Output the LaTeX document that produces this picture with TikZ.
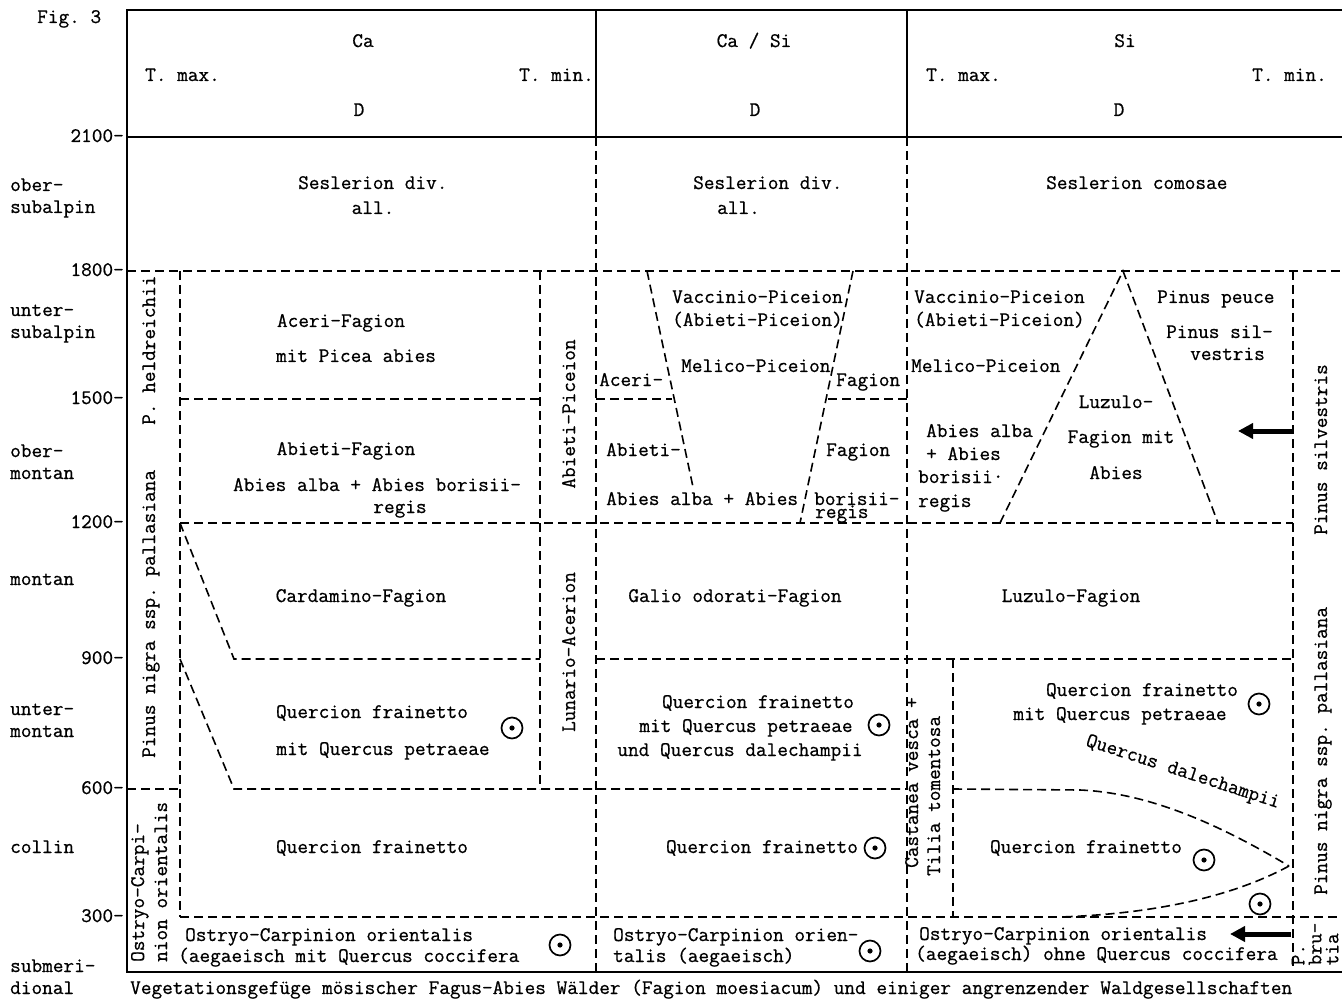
\documentclass[tikz,border=0pt]{standalone}
\usepackage{fontspec}
\setmonofont{Latin Modern Mono}[FakeBold=0.7]
\usetikzlibrary{arrows.meta}
\begin{document}
\begin{tikzpicture}[x=1pt,y=-1pt,
 frame/.style={line width=2pt},
 dl/.style={dash pattern=on 9pt off 5pt, line width=1.6pt},
 tx/.style={font=\fontsize{20.7}{24}\selectfont\ttfamily, inner sep=0pt, text height=10pt, text depth=0pt},
 vt/.style={tx, rotate=90, anchor=west},
 odot/.style={circle, draw, line width=1.7pt, minimum size=21pt, inner sep=0pt,
   path picture={\fill (path picture bounding box.center) circle (2.6pt);}},
 bigarrow/.style={line width=5pt, -{Triangle[length=15pt,width=15pt]}}]
\useasboundingbox (0,0) rectangle (1342,1000);

% ---------- frame (solid) ----------
\draw[frame] (1342,10) -- (127,10) -- (127,972) -- (1342,972);
\draw[frame] (127,137) -- (1342,137);
\draw[frame] (596,10) -- (596,137);
\draw[frame] (907,10) -- (907,137);

% ---------- dashed grid ----------
\draw[dl] (127,271) -- (1342,271);
\draw[dl] (596,137) -- (596,972);
\draw[dl] (907,137) -- (907,972);
\draw[dl] (180,271) -- (180,917);
\draw[dl] (540,271) -- (540,789);
\draw[dl] (180,399) -- (540,399);
\draw[dl] (180,523) -- (1293,523);
\draw[dl] (180,523) -- (234,659) -- (540,659);
\draw[dl] (180,659) -- (234,789) -- (907,789);
\draw[dl] (127,789) -- (180,789);
\draw[dl] (180,917) -- (1342,917);
% Ca/Si column
\draw[dl] (596,399) -- (672,399);
\draw[dl] (828,399) -- (907,399);
\draw[dl] (647,271) -- (693,487);
\draw[dl] (853,271) -- (800,523);
\draw[dl] (596,659) -- (1293,659);
\draw[dl] (953,659) -- (953,917);
% Si column
\draw[dl] (1000,523) -- (1123,271) -- (1218,523);
\draw[dl] (1293,271) -- (1293,972);
\draw[dl] (953,789) -- (1080,790) .. controls (1150,793) and (1220,825) .. (1289,866);
\draw[dl] (1289,866) .. controls (1230,898) and (1150,914) .. (1060,917);

% ---------- header ----------
\node[tx, anchor=west] (fig) at (37,18) {Fig. 3};
\node[tx] (hca) at (363,42) {Ca};
\node[tx, anchor=west] (hcamax) at (145,76) {T. max.};
\node[tx, anchor=west] (hcamin) at (519,76) {T. min.};
\node[tx] (hcad) at (359,111) {D};
\node[tx] (hcasi) at (754,42) {Ca / Si};
\node[tx] (hcasid) at (755,111) {D};
\node[tx] (hsi) at (1125,42) {Si};
\node[tx, anchor=west] (hsimax) at (926,76) {T. max.};
\node[tx, anchor=west] (hsimin) at (1252,76) {T. min.};
\node[tx] (hsid) at (1119,111) {D};

% ---------- altitude ticks ----------
\node[tx, anchor=east] (t2100) at (124,137) {2100-};
\node[tx, anchor=east] (t1800) at (124,271) {1800-};
\node[tx, anchor=east] (t1500) at (124,399) {1500-};
\node[tx, anchor=east] (t1200) at (124,523) {1200-};
\node[tx, anchor=east] (t900) at (124,659) {900-};
\node[tx, anchor=east] (t600) at (124,789) {600-};
\node[tx, anchor=east] (t300) at (124,917) {300-};

% ---------- belt labels ----------
\node[tx, anchor=west] (b1a) at (10,186) {ober-};
\node[tx, anchor=west] (b1b) at (10,208) {subalpin};
\node[tx, anchor=west] (b2a) at (10,311) {unter-};
\node[tx, anchor=west] (b2b) at (10,333) {subalpin};
\node[tx, anchor=west] (b3a) at (10,452) {ober-};
\node[tx, anchor=west] (b3b) at (10,474) {montan};
\node[tx, anchor=west] (b4) at (10,580) {montan};
\node[tx, anchor=west] (b5a) at (10,710) {unter-};
\node[tx, anchor=west] (b5b) at (10,732) {montan};
\node[tx, anchor=west] (b6) at (10,848) {collin};
\node[tx, anchor=west] (b7a) at (10,967) {submeri-};
\node[tx, anchor=west] (b7b) at (10,989) {dional};

% ---------- Ca column ----------
\node[tx, anchor=west] (ca1) at (298,184) {Seslerion div.};
\node[tx] (ca2) at (373,209) {all.};
\node[tx] (ca3) at (341,322) {Aceri-Fagion};
\node[tx] (ca4) at (356,357) {mit Picea abies};
\node[tx] (ca5) at (346,450) {Abieti-Fagion};
\node[tx] (ca6) at (377,486) {Abies alba + Abies borisii-};
\node[tx] (ca7) at (400,508) {regis};
\node[tx] (ca8) at (361,597) {Cardamino-Fagion};
\node[tx] (ca9) at (372,713) {Quercion frainetto};
\node[tx] (ca10) at (383,750) {mit Quercus petraeae};
\node[odot] (oc1) at (512,728) {};
\node[tx] (ca11) at (372,848) {Quercion frainetto};
\node[tx, anchor=west] (ca12) at (185,936) {Ostryo-Carpinion orientalis};
\node[tx, anchor=west] (ca13) at (178,957) {(aegaeisch mit Quercus coccifera};
\node[odot] (oc2) at (560,945) {};
\node[vt] (pn1) at (150,758) {Pinus nigra ssp. pallasiana};
\node[vt] (pn2) at (150,425) {P. heldreichii};
\node[vt] (oc3) at (139,962) {Ostryo-Carpi-};
\node[vt] (oc4) at (162,962) {nion orientalis};
\node[tx, rotate=90] (ap) at (570,414) {Abieti-Piceion};
\node[tx, rotate=90] (la) at (570,652) {Lunario-Acerion};

% ---------- Ca / Si column ----------
\node[tx, anchor=west] (m1) at (693,184) {Seslerion div.};
\node[tx, anchor=west] (m2) at (717,209) {all.};
\node[tx, anchor=west] (m3) at (672,298) {Vaccinio-Piceion};
\node[tx, anchor=west] (m4) at (672,321) {(Abieti-Piceion)};
\node[tx, anchor=west] (m5) at (681,367) {Melico-Piceion};
\node[tx, anchor=west] (m6) at (599,381) {Aceri-};
\node[tx, anchor=west] (m7) at (836,381) {Fagion};
\node[tx, anchor=west] (m8) at (606,451) {Abieti-};
\node[tx, anchor=west] (m9) at (826,451) {Fagion};
\node[tx, anchor=west] (m10) at (606,500) {Abies alba + Abies};
\node[tx, anchor=west] (m11) at (814,500) {borisii-};
\node[tx, anchor=west] (m12) at (815,513) {regis};
\node[tx] (m13) at (735,597) {Galio odorati-Fagion};
\node[tx] (m14) at (758,703) {Quercion frainetto};
\node[tx] (m15) at (746,727) {mit Quercus petraeae};
\node[tx] (m16) at (740,751) {und Quercus dalechampii};
\node[odot] (om1) at (879,725) {};
\node[tx] (m17) at (762,848) {Quercion frainetto};
\node[odot] (om2) at (875,848) {};
\node[tx, anchor=west] (m18) at (613,936) {Ostryo-Carpinion orien-};
\node[tx, anchor=west] (m19) at (613,957) {talis (aegaeisch)};
\node[odot] (om3) at (870,951) {};
\node[vt] (cv1) at (913,868) {Castanea vesca +};
\node[vt] (cv2) at (935,876) {Tilia tomentosa};

% ---------- Si column ----------
\node[tx, anchor=west] (s1) at (1046,184) {Seslerion comosae};
\node[tx, anchor=west] (s2) at (914,298) {Vaccinio-Piceion};
\node[tx, anchor=west] (s3) at (914,321) {(Abieti-Piceion)};
\node[tx, anchor=west] (s4) at (911,367) {Melico-Piceion};
\node[tx, anchor=west] (s5) at (1157,298) {Pinus peuce};
\node[tx, anchor=west] (s6) at (1166,333) {Pinus sil-};
\node[tx, anchor=west] (s7) at (1190,355) {vestris};
\node[tx] (s8) at (1116,403) {Luzulo-};
\node[tx] (s9) at (1121,438) {Fagion mit};
\node[tx] (s10) at (1116,474) {Abies};
\node[tx, anchor=west] (s11) at (926,432) {Abies alba};
\node[tx, anchor=west] (s12) at (926,455) {+ Abies};
\node[tx, anchor=west] (s13) at (918,478) {borisii·};
\node[tx, anchor=west] (s14) at (918,502) {regis};
\node[tx] (s15) at (1071,597) {Luzulo-Fagion};
\node[tx] (s16) at (1142,691) {Quercion frainetto};
\node[tx] (s17) at (1120,715) {mit Quercus petraeae};
\node[odot] (os1) at (1259,704) {};
\node[tx, rotate=-18] (s18) at (1183,772) {Quercus dalechampii};
\node[tx] (s19) at (1086,848) {Quercion frainetto};
\node[odot] (os2) at (1204,860) {};
\node[odot] (os3) at (1260,904) {};
\node[tx, anchor=west] (s20) at (919,935) {Ostryo-Carpinion orientalis};
\node[tx, anchor=west] (s21) at (915,955) {(aegaeisch) ohne Quercus coccifera};
\node[vt] (ps1) at (1322,535) {Pinus silvestris};
\node[vt] (ps2) at (1322,895) {Pinus nigra ssp. pallasiana};
\node[font=\fontsize{20.7}{17}\selectfont\ttfamily, inner sep=0pt, rotate=90, align=left] (pb) at (1315,944) {P.\\bru-\\tia};

% ---------- arrows ----------
\coordinate (a1s) at (1293,431);
\coordinate (a1e) at (1238,431);
\draw[bigarrow] (a1s) -- (a1e);
\coordinate (a2s) at (1291,934);
\coordinate (a2e) at (1230,934);
\draw[bigarrow] (a2s) -- (a2e);

% ---------- caption ----------
\node[tx, anchor=west] (cap) at (130,989) {Vegetationsgefüge mösischer Fagus-Abies Wälder (Fagion moesiacum) und einiger angrenzender Waldgesellschaften};
\end{tikzpicture}
\end{document}
